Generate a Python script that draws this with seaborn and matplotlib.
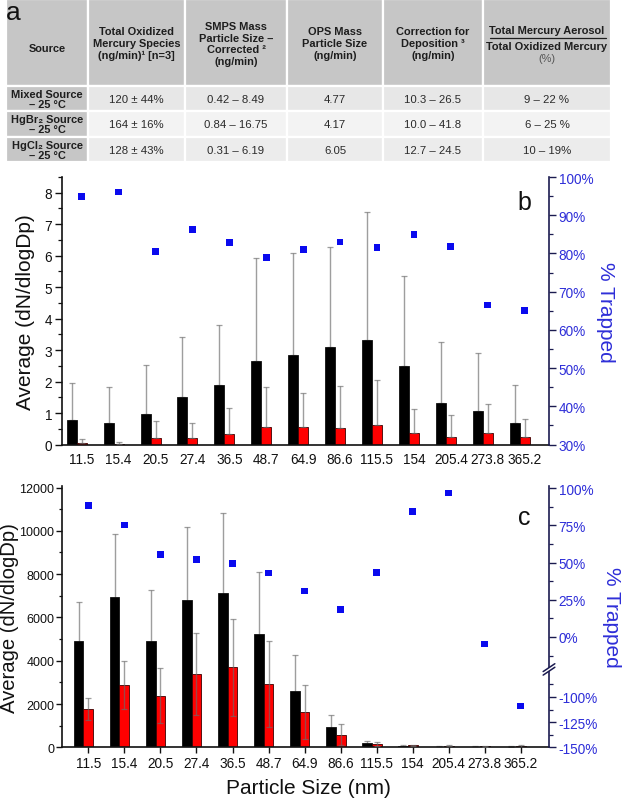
import numpy as np
import pandas as pd
import matplotlib
matplotlib.use("Agg")
import matplotlib.pyplot as plt
from matplotlib.patches import Rectangle
from matplotlib.ticker import MultipleLocator, FixedLocator, FuncFormatter
import seaborn as sns

# ---------------- data ----------------
sizes = ["11.5", "15.4", "20.5", "27.4", "36.5", "48.7", "64.9",
         "86.6", "115.5", "154", "205.4", "273.8", "365.2"]

# panel b
b_black = [0.79, 0.69, 0.96, 1.52, 1.88, 2.66, 2.86, 3.11, 3.32, 2.49, 1.31, 1.08, 0.68]
b_black_err = [1.16, 1.15, 1.57, 1.90, 1.93, 3.28, 3.23, 3.16, 4.08, 2.87, 1.94, 1.84, 1.21]
b_red = [0.04, 0.03, 0.20, 0.21, 0.33, 0.57, 0.55, 0.53, 0.61, 0.38, 0.24, 0.37, 0.24]
b_red_err = [0.14, 0.06, 0.54, 0.47, 0.83, 1.27, 1.10, 1.34, 1.45, 0.75, 0.69, 0.91, 0.58]
b_trapped = [95.0, 96.1, 80.6, 86.3, 82.8, 78.9, 81.1, 83.0, 81.6, 85.0, 81.8, 66.5, 65.1]

# panel c
c_black = [4920, 6950, 4920, 6800, 7110, 5220, 2620, 920, 185, 46, 15, 15, 30]
c_black_err = [1770, 2900, 2360, 3390, 3690, 2900, 1660, 585, 125, 77, 62, 25, 30]
c_red = [1770, 2880, 2390, 3390, 3690, 2920, 1650, 585, 154, 92, 77, 46, 46]
c_red_err = [505, 1120, 1260, 1890, 2230, 1970, 1245, 490, 77, 20, 13, 24, 77]
c_trapped = [88.6, 75.3, 55.6, 52.0, 49.6, 43.0, 30.9, 18.4, 43.5, 84.5, 96.8, -4.7, -109.0]

# table a
table_header = ["Source",
                "Total Oxidized\nMercury Species\n(ng/min)\u00b9 [n=3]",
                "SMPS Mass\nParticle Size \u2013\nCorrected \u00b2\n(ng/min)",
                "OPS Mass\nParticle Size\n(ng/min)",
                "Correction for\nDeposition \u00b3\n(ng/min)"]
table_ratio_header = ["Total Mercury Aerosol", "Total Oxidized Mercury", "(%)"]
table_sources = ["Mixed Source\n\u2013 25 \u00b0C", "HgBr\u2082 Source\n\u2013 25 \u00b0C",
                 "HgCl\u2082 Source\n\u2013 25 \u00b0C"]
table_total = ["120 \u00b1 44%", "164 \u00b1 16%", "128 \u00b1 43%"]
table_smps = ["0.42 \u2013 8.49", "0.84 \u2013 16.75", "0.31 \u2013 6.19"]
table_ops = ["4.77", "4.17", "6.05"]
table_corr = ["10.3 \u2013 26.5", "10.0 \u2013 41.8", "12.7 \u2013 24.5"]
table_ratio = ["9 \u2013 22 %", "6 \u2013 25 %", "10 \u2013 19%"]

# ---------------- style ----------------
sns.set_style("ticks")
plt.rcParams['font.family'] = ['Liberation Sans', 'DejaVu Sans']

W, H = 622, 803
fig = plt.figure(figsize=(W / 100, H / 100), dpi=100)


def fx(px):
    return px / W


def fy(py):
    return 1 - py / H


BLUE_TXT = '#2e2ed8'
BLUE_PT = '#0a0aee'
ERR_C = (0.42, 0.42, 0.42, 0.65)
TICK_FS = 9.8
LAB_FS = 15
HDR_FS = 7.9
CELL_FS = 8.2

# ---------------- table ----------------
tax = fig.add_axes([0, 0, 1, 1])
tax.set_xlim(0, W)
tax.set_ylim(H, 0)
tax.set_axis_off()

col_edges = [6, 88, 185, 287, 383, 483, 611]
row_edges = [0, 86.5, 112, 137.5, 163]
hdr_bg = '#c6c6c6'
row_bg = ['#e7e7e7', '#f3f3f3', '#ececec']

for r in range(4):
    for c in range(6):
        x0, x1 = col_edges[c], col_edges[c + 1]
        y0, y1 = row_edges[r], row_edges[r + 1]
        fc = hdr_bg if (r == 0 or c == 0) else row_bg[r - 1]
        tax.add_patch(Rectangle((x0, y0), x1 - x0, y1 - y0, facecolor=fc,
                                edgecolor='white', lw=1.6))

hdr_cy = [49, 44, 44.5, 44, 44]
for c in range(5):
    cx = 0.5 * (col_edges[c] + col_edges[c + 1])
    tax.text(cx, hdr_cy[c], table_header[c], ha='center', va='center',
             fontsize=HDR_FS, fontweight='bold', color='#1e1e1e', linespacing=1.22)
cx = 0.5 * (col_edges[5] + col_edges[6])
tax.text(cx, 31.5, table_ratio_header[0], ha='center', va='center', fontsize=HDR_FS,
         fontweight='bold', color='#1e1e1e')
tax.plot([490, 606], [38.5, 38.5], color='#1e1e1e', lw=0.9)
tax.text(cx, 46.5, table_ratio_header[1], ha='center', va='center', fontsize=HDR_FS,
         fontweight='bold', color='#1e1e1e')
tax.text(cx, 59.5, table_ratio_header[2], ha='center', va='center', fontsize=HDR_FS,
         color='#555555')
tax.text(13, 13, "a", ha='center', va='center', fontsize=19, color='#111111')

cols = [table_sources, table_total, table_smps, table_ops, table_corr, table_ratio]
for r in range(3):
    cy = 0.5 * (row_edges[r + 1] + row_edges[r + 2]) + 0.5
    for c in range(6):
        cx = 0.5 * (col_edges[c] + col_edges[c + 1])
        if c == 0:
            tax.text(cx, cy, cols[c][r], ha='center', va='center', fontsize=7.9,
                     fontweight='bold', color='#1e1e1e', linespacing=1.0)
        else:
            tax.text(cx, cy, cols[c][r], ha='center', va='center', fontsize=CELL_FS,
                     color='#2a2a2a')

# ---------------- bar panels ----------------
x = np.arange(len(sizes))
bw = 0.27


def bar_panel(ax, black, black_err, red, red_err, symmetric):
    zeros = np.zeros(len(x))
    be = np.array(black_err)
    re = np.array(red_err)
    yerr_b = [be, be] if symmetric else [zeros, be]
    yerr_r = [re, re] if symmetric else [zeros, re]
    # black error bars sit behind the black bars
    ax.errorbar(x - bw, black, yerr=yerr_b, fmt='none', ecolor=ERR_C,
                elinewidth=1.0, capsize=2.3, capthick=0.9, zorder=0.5)
    sns.barplot(x=x - bw, y=black, native_scale=True, width=bw, color='black',
                edgecolor='#111111', linewidth=0.6, saturation=1, errorbar=None, ax=ax)
    sns.barplot(x=x, y=red, native_scale=True, width=bw, color='#ff0000',
                edgecolor='#3a0000', linewidth=0.6, saturation=1, errorbar=None, ax=ax)
    ax.errorbar(x, red, yerr=yerr_r, fmt='none', ecolor=ERR_C,
                elinewidth=1.0, capsize=2.3, capthick=0.9, zorder=3)


def style_common(ax, ax2):
    ax.spines['top'].set_visible(False)
    ax.spines['right'].set_visible(False)
    ax2.spines['top'].set_visible(False)
    ax2.spines['left'].set_visible(False)
    ax2.spines['bottom'].set_visible(False)
    for s in ['left', 'bottom']:
        ax.spines[s].set_linewidth(1.2)
        ax.spines[s].set_color('#111111')
    ax2.spines['right'].set_linewidth(1.2)
    ax2.spines['right'].set_color('#1b1b50')
    ax.set_xticks(x)
    ax.set_xticklabels(sizes)
    ax.tick_params(axis='y', which='major', length=5, width=1, labelsize=TICK_FS,
                   pad=2, colors='#111111')
    ax.tick_params(axis='y', which='minor', length=3, width=0.9, colors='#111111')
    ax2.tick_params(axis='y', which='major', length=5, width=1, labelsize=TICK_FS,
                    pad=2, color='#1b1b50', labelcolor=BLUE_TXT)
    ax2.tick_params(axis='y', which='minor', length=3, width=0.9, color='#1b1b50')
    ax.set_xlabel('')
    ax.set_ylabel('')
    ax2.set_xlabel('')
    ax2.set_ylabel('')
    ax.grid(False)
    ax2.grid(False)


pct = FuncFormatter(lambda v, p: f"{v:g}%")

# ---- panel b ----
axb = fig.add_axes([fx(62), fy(445.6), fx(549) - fx(62), fy(178) - fy(445.6)])
bar_panel(axb, b_black, b_black_err, b_red, b_red_err, symmetric=False)
axb2 = axb.twinx()
sns.scatterplot(x=x, y=b_trapped, marker='s', s=24, color=BLUE_PT, linewidth=0,
                edgecolor='none', legend=False, ax=axb2, zorder=5)
axb.set_xlim(-0.534, 12.66)
axb.set_ylim(0, 8.5)
axb.yaxis.set_major_locator(FixedLocator(np.arange(0, 9, 1)))
axb.yaxis.set_minor_locator(MultipleLocator(0.5))
axb2.set_ylim(30, 100)
axb2.yaxis.set_major_locator(FixedLocator(np.arange(30, 101, 10)))
axb2.yaxis.set_minor_locator(MultipleLocator(5))
axb2.yaxis.set_major_formatter(pct)
style_common(axb, axb2)
axb.tick_params(axis='x', length=0, labelsize=TICK_FS, pad=5, colors='#111111')
axb.text(0.949, 0.907, "b", transform=axb.transAxes, ha='center', va='center',
         fontsize=18, color='#111111')


# ---- panel c (broken right axis) ----
def fwd(y):
    y = np.asarray(y, dtype=float)
    return np.where(y < -75, (y + 150) * 1.006,
                    np.where(y < -20, 75.45 + (y + 75) * (80.56 - 75.45) / 55.0,
                             110.3 + y * 1.487))


def inv(v):
    v = np.asarray(v, dtype=float)
    return np.where(v < 75.45, v / 1.006 - 150,
                    np.where(v < 80.56, -75 + (v - 75.45) * 55.0 / (80.56 - 75.45),
                             (v - 110.3) / 1.487))


axc = fig.add_axes([fx(62), fy(748.3), fx(549) - fx(62), fy(487) - fy(748.3)])
bar_panel(axc, c_black, c_black_err, c_red, c_red_err, symmetric=True)
axc2 = axc.twinx()
axc2.set_yscale('function', functions=(fwd, inv))
sns.scatterplot(x=x, y=c_trapped, marker='s', s=24, color=BLUE_PT, linewidth=0,
                edgecolor='none', legend=False, ax=axc2, zorder=5)
axc.set_xlim(-0.73, 12.78)
axc.set_ylim(0, 12070)
axc.yaxis.set_major_locator(FixedLocator(np.arange(0, 12001, 2000)))
axc.yaxis.set_minor_locator(MultipleLocator(1000))
axc2.set_ylim(-150, 101.5)
axc2.yaxis.set_major_locator(FixedLocator([-150, -125, -100, 0, 25, 50, 75, 100]))
axc2.yaxis.set_minor_locator(FixedLocator([-137.5, -112.5, -87.5, -12.5, 12.5,
                                           37.5, 62.5, 87.5]))
axc2.yaxis.set_major_formatter(pct)
style_common(axc, axc2)
axc.tick_params(axis='y', which='major', labelsize=9.0, length=4, pad=1.5)
axc.tick_params(axis='y', which='minor', length=2.5)
axc.tick_params(axis='x', length=4, width=1, labelsize=TICK_FS, pad=2, colors='#111111')
axc.text(0.949, 0.881, "c", transform=axc.transAxes, ha='center', va='center',
         fontsize=18, color='#111111')

# break marks on the right axis
vtop = float(fwd(101.5))
f1 = float(fwd(-30)) / vtop
f2 = float(fwd(-68)) / vtop
axc2.add_patch(Rectangle((0.994, f2), 0.012, f1 - f2, transform=axc2.transAxes,
                         facecolor='white', edgecolor='none', clip_on=False, zorder=10))
for f in (f1, f2):
    axc2.plot([0.988, 1.012], [f - 0.015, f + 0.015], transform=axc2.transAxes,
              color='#1b1b50', lw=1.1, clip_on=False, zorder=11)

# ---------------- axis titles ----------------
fig.text(fx(26), fy(312), "Average (dN/dlogDp)", rotation=90, ha='center', va='center',
         fontsize=LAB_FS, color='#111111')
fig.text(fx(10), fy(618), "Average (dN/dlogDp)", rotation=90, ha='center', va='center',
         fontsize=14.6, color='#111111')
fig.text(fx(605), fy(312), "% Trapped", rotation=270, ha='center', va='center',
         fontsize=LAB_FS, color=BLUE_TXT)
fig.text(fx(611), fy(617), "% Trapped", rotation=270, ha='center', va='center',
         fontsize=LAB_FS, color=BLUE_TXT)
fig.text(fx(308), fy(789), "Particle Size (nm)", ha='center', va='center',
         fontsize=LAB_FS, color='#111111')

fig.savefig("out.png", dpi=100, facecolor='white')
